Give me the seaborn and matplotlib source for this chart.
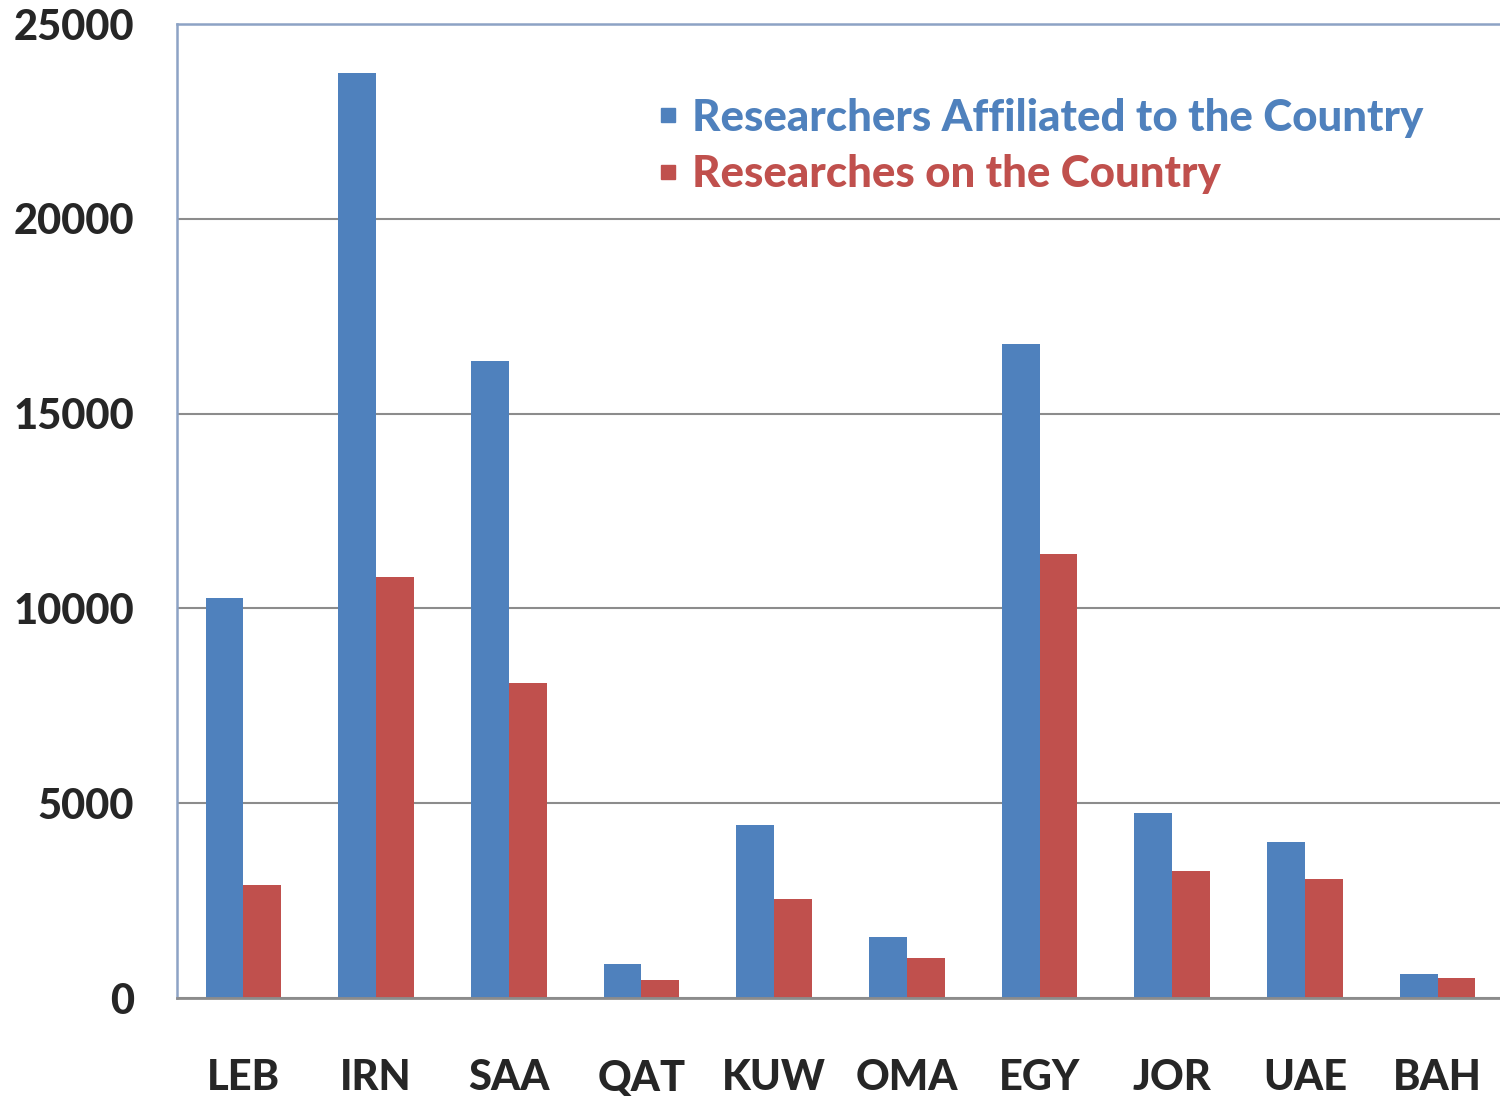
import matplotlib
matplotlib.use("Agg")
import matplotlib.pyplot as plt
import seaborn as sns
import pandas as pd
from matplotlib.lines import Line2D

countries = ["LEB", "IRN", "SAA", "QAT", "KUW", "OMA", "EGY", "JOR", "UAE", "BAH"]
affiliated = [10270, 23740, 16350, 870, 4440, 1570, 16790, 4750, 4000, 620]
on_country = [2900, 10810, 8090, 460, 2540, 1030, 11400, 3260, 3050, 510]
series_names = ["Researchers Affiliated to the Country", "Researches on the Country"]
colors = ["#4F81BD", "#C0504D"]
yticks = [0, 5000, 10000, 15000, 20000, 25000]

df = pd.DataFrame({
    "country": countries * 2,
    "value": affiliated + on_country,
    "series": [series_names[0]] * len(countries) + [series_names[1]] * len(countries),
})

sns.set_style("white")
plt.rcParams["font.family"] = ["Lato", "DejaVu Sans"]
W = 900

fig = plt.figure(figsize=(15, 10.96), dpi=100)
ax = fig.add_axes([177 / 1500, 1 - 998 / 1096, 1327 / 1500, 974 / 1096])

sns.barplot(data=df, x="country", y="value", hue="series", palette=colors,
            width=0.57, gap=0, saturation=1, ax=ax, legend=False, linewidth=0)

ax.set_ylim(0, 25000)
ax.set_xlim(-0.5, 9.5)
ax.set_yticks(yticks)
ax.set_yticklabels([str(t) for t in yticks], fontsize=30, fontweight=W)
ax.set_xticks(range(len(countries)))
ax.set_xticklabels(countries, fontsize=30, fontweight=W)
ax.tick_params(axis="y", length=0, pad=31)
ax.tick_params(axis="x", length=0, pad=44)
ax.set_xlabel("")
ax.set_ylabel("")
ax.yaxis.grid(True, color="#8C8C8C", linewidth=1.5)
ax.set_axisbelow(True)

for s in ["left", "top"]:
    ax.spines[s].set_color("#8DA3C5")
    ax.spines[s].set_linewidth(1.8)
ax.spines["bottom"].set_color("#8C8C8C")
ax.spines["bottom"].set_linewidth(2)
ax.spines["right"].set_visible(False)

handles = [Line2D([0], [0], marker="s", linestyle="", markersize=9.5,
                  markerfacecolor=c, markeredgecolor=c) for c in colors]
leg = ax.legend(handles, series_names, loc="upper left", bbox_to_anchor=(0.33, 0.965),
                frameon=False, handlelength=0.6, handletextpad=0.25,
                labelspacing=0.38, prop={"weight": W, "size": 31.6})
for t, c in zip(leg.get_texts(), colors):
    t.set_color(c)

fig.savefig("out.png", dpi=100)
